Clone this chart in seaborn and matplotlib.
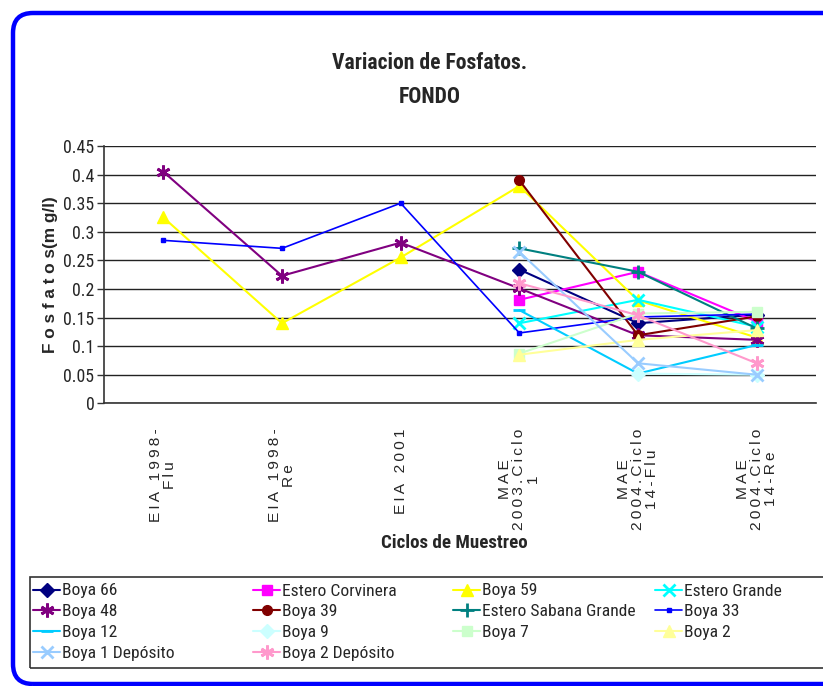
import numpy as np
import matplotlib
matplotlib.use("Agg")
import matplotlib.pyplot as plt
import seaborn as sns
from matplotlib import font_manager
from matplotlib.patches import FancyBboxPatch, Rectangle
from matplotlib.transforms import IdentityTransform

# Data
categories = ["EIA 1998-\nFlu", "EIA 1998-\nRe", "EIA 2001",
              "MAE\n2003.Ciclo\n1", "MAE\n2004.Ciclo\n14-Flu", "MAE\n2004.Ciclo\n14-Re"]
nan = np.nan
boya_66 = [nan, nan, nan, 0.234, 0.140, 0.155]
estero_corvinera = [nan, nan, nan, 0.181, 0.230, 0.143]
boya_59 = [0.325, 0.140, 0.255, 0.380, 0.180, 0.115]
estero_grande = [nan, nan, nan, 0.140, 0.181, 0.134]
boya_48 = [0.405, 0.223, 0.281, 0.201, 0.119, 0.111]
boya_39 = [nan, nan, nan, 0.390, 0.119, 0.152]
estero_sabana_grande = [nan, nan, nan, 0.271, 0.230, 0.131]
boya_33 = [0.285, 0.271, 0.350, 0.123, 0.151, 0.156]
boya_12 = [nan, nan, nan, 0.163, 0.052, 0.102]
boya_9 = [nan, nan, nan, nan, 0.052, 0.050]
boya_7 = [nan, nan, nan, 0.087, 0.157, 0.160]
boya_2 = [nan, nan, nan, 0.085, 0.111, 0.128]
boya_1_deposito = [nan, nan, nan, 0.265, 0.070, 0.050]
boya_2_deposito = [nan, nan, nan, 0.210, 0.154, 0.070]

series = [
    ("Boya 66", boya_66, "#000080", "D", 7, 1.5),
    ("Estero Corvinera", estero_corvinera, "#FF00FF", "s", 7, 1.5),
    ("Boya 59", boya_59, "#FFFF00", "^", 9, 1.5),
    ("Estero Grande", estero_grande, "#00FFFF", "x", 9, 1.5),
    ("Boya 48", boya_48, "#800080", (6, 2, 0), 10, 1.5),
    ("Boya 39", boya_39, "#800000", "o", 7, 1.5),
    ("Estero Sabana Grande", estero_sabana_grande, "#008080", "+", 10, 1.5),
    ("Boya 33", boya_33, "#0000FF", "s", 3.5, 1.2),
    ("Boya 12", boya_12, "#00CCFF", "_", 8, 1.5),
    ("Boya 9", boya_9, "#CCFFFF", "D", 7, 1.5),
    ("Boya 7", boya_7, "#CCFFCC", "s", 7, 1.5),
    ("Boya 2", boya_2, "#FFFF99", "^", 9, 1.5),
    ("Boya 1 Depósito", boya_1_deposito, "#99CCFF", "x", 9, 1.5),
    ("Boya 2 Depósito", boya_2_deposito, "#FF99CC", (6, 2, 0), 10, 1.5),
]

sns.set_style("white")

# pick a narrow font if one is installed
fonts = font_manager.fontManager.ttflist
names = {f.name for f in fonts}
narrow, stretch = "Liberation Sans", "normal"
for cand in ["Liberation Sans Narrow", "Arial Narrow", "Roboto Condensed", "Open Sans Condensed"]:
    if cand in names:
        narrow = cand
        break
else:
    if any(f.name == "DejaVu Sans" and f.stretch == "condensed" for f in fonts):
        narrow, stretch = "DejaVu Sans", "condensed"
plt.rcParams["font.family"] = [narrow, "DejaVu Sans"]
plt.rcParams["font.stretch"] = stretch
wide = ["Liberation Sans", "DejaVu Sans"]

fig = plt.figure(figsize=(8.23, 6.86), dpi=100)
renderer = fig.canvas.get_renderer()
H = 686


def fit(s, px, **kw):
    t = fig.text(0, 0, s, fontsize=10, **kw)
    w = t.get_window_extent(renderer).width
    t.remove()
    return 10 * px / w


def spaced(s):
    # Excel-like letter spacing on the category labels
    return "\n".join("\u2009".join(line) for line in s.split("\n"))


tick_labels = [spaced(c) for c in categories]
ylab = "F o s f a t o s(m g/l)"

fs_title = fit("Variacion de Fosfatos.", 195, fontweight="bold")
fs_leg = fit("Estero Sabana Grande", 152)
fs_xlab = fit("Ciclos de Muestreo", 147, fontweight="bold")
fs_ytick = fit("0.45", 31)
fs_ylab = fit(ylab, 157, fontweight="bold", family=wide)
fs_xtick = fit(spaced("EIA 1998-"), 93, family=wide)

ax = fig.add_axes([104 / 823, 1 - 403.3 / H, 712 / 823, 257.3 / H])

x = np.arange(len(categories))
for name, vals, color, marker, ms, lw in series:
    sns.lineplot(x=x, y=np.array(vals, dtype=float), color=color, marker=marker,
                 markersize=ms, linewidth=lw, markeredgecolor=color,
                 markeredgewidth=2.0 if marker in ("x", "+", "_") or isinstance(marker, tuple) else 1,
                 label=name, ax=ax)
handles, labels = ax.get_legend_handles_labels()
if ax.get_legend():
    ax.get_legend().remove()

ax.set_xlim(-0.5, 5.5)
ax.set_ylim(0, 0.45)
ax.set_yticks(np.arange(0, 0.451, 0.05))
ax.set_yticklabels(["0", "0.05", "0.1", "0.15", "0.2", "0.25", "0.3", "0.35", "0.4", "0.45"],
                   fontsize=fs_ytick)
ax.yaxis.grid(True, color="#222222", linewidth=1.0)
ax.xaxis.grid(False)
ax.set_axisbelow(True)

ax.set_xticks(x)
ax.set_xticklabels(tick_labels, rotation=90, fontsize=fs_xtick, family=wide,
                   multialignment="center", linespacing=1.0)
ax.set_xticks(np.arange(-0.5, 6, 1), minor=True)
ax.tick_params(axis="x", which="major", length=0, pad=18)
ax.tick_params(axis="x", which="minor", length=6, width=1, color="#333333", direction="out")
ax.tick_params(axis="y", length=5, width=1, color="#333333", direction="out", pad=2)
ax.tick_params(axis="both", bottom=True, left=True)

for side in ("top", "right"):
    ax.spines[side].set_visible(False)
for side in ("left", "bottom"):
    ax.spines[side].set_color("#333333")
    ax.spines[side].set_linewidth(1.2)

ax.set_ylabel(ylab, fontsize=fs_ylab, fontweight="bold", family=wide, labelpad=4)
fig.text(454 / 823, 1 - 543 / H, "Ciclos de Muestreo", ha="center", va="center",
         fontsize=fs_xlab, fontweight="bold")

fig.text(430 / 823, 1 - 63 / H, "Variacion de Fosfatos.", ha="center", va="center",
         fontsize=fs_title, fontweight="bold")
fig.text(430 / 823, 1 - 97 / H, "FONDO", ha="center", va="center",
         fontsize=fs_title, fontweight="bold")

# legend: four columns on a fixed grid, entries in row-major order
fs_px = fs_leg * 100 / 72
t = fig.text(0, 0, "Boya", fontsize=fs_leg)
text_h = t.get_window_extent(renderer).height
t.remove()
row_pitch = 20.7
col_x = [33, 253, 453, 655]
for c in range(4):
    idx = list(range(c, len(handles), 4))
    fig.legend([handles[i] for i in idx], [labels[i] for i in idx],
               loc="upper left", bbox_to_anchor=(col_x[c] / 823, 1 - (591 - text_h / 2) / H),
               frameon=False, fontsize=fs_leg, handlelength=27 / fs_px,
               handleheight=0.6, handletextpad=1.5 / fs_px,
               labelspacing=(row_pitch - text_h) / fs_px,
               borderpad=0, borderaxespad=0)
fig.patches.append(Rectangle((30, H - 668), 800, 91, transform=IdentityTransform(),
                             facecolor="none", edgecolor="#333333", linewidth=1.2))

# rounded blue chart border
fig.patches.append(FancyBboxPatch((13, 2), 840, 671,
                                  boxstyle="round,pad=0,rounding_size=20",
                                  transform=IdentityTransform(), facecolor="none",
                                  edgecolor="#0000FF", linewidth=3.2, clip_on=False))

fig.savefig("out.png", dpi=100)
